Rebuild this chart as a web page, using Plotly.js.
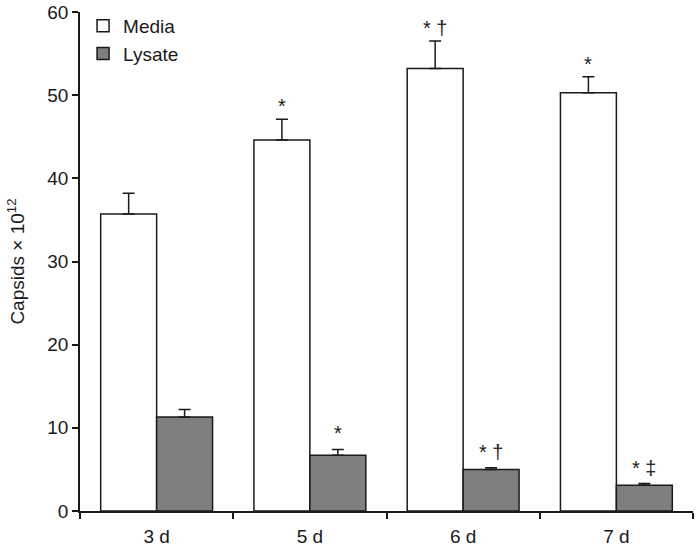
<!DOCTYPE html>
<html>
<head>
<meta charset="utf-8">
<script src="https://cdn.plot.ly/plotly-3.0.1.min.js"></script>
<style>
  body { margin: 0; background: #fff; }
  #chart { width: 700px; height: 550px; }
</style>
</head>
<body>
<div id="chart"></div>
<script>
const categories = ['3 d', '5 d', '6 d', '7 d'];
const mediaValues = [35.7, 44.6, 53.2, 50.3];
const mediaErr = [2.5, 2.5, 3.3, 1.9];
const lysateValues = [11.3, 6.7, 5.0, 3.1];
const lysateErr = [0.9, 0.7, 0.2, 0.2];
const mediaMarks = ['', '*', '* \u2020', '*'];
const lysateMarks = ['', '*', '* \u2020', '* \u2021'];

const barGap = 0.27;
const half = (1 - barGap) / 4;
const zeros = categories.map(() => 0);

const traces = [
    {
        type: 'bar',
        name: 'Media',
        x: categories,
        y: mediaValues,
        marker: {color: '#ffffff', line: {color: '#1a1a1a', width: 1.5}},
        error_y: {type: 'data', symmetric: false, array: mediaErr, arrayminus: zeros,
            color: '#1a1a1a', thickness: 1.5, width: 6}
    },
    {
        type: 'bar',
        name: 'Lysate',
        x: categories,
        y: lysateValues,
        marker: {color: '#7f7f7f', line: {color: '#1a1a1a', width: 1.5}},
        error_y: {type: 'data', symmetric: false, array: lysateErr, arrayminus: zeros,
            color: '#1a1a1a', thickness: 1.5, width: 6}
    }
];

const annotations = [];
categories.forEach((c, i) => {
    if (mediaMarks[i]) {
        annotations.push({x: i - half, y: mediaValues[i] + mediaErr[i], text: mediaMarks[i],
            showarrow: false, yanchor: 'bottom', yshift: 0, font: {size: 20, color: '#1a1a1a'}});
    }
    if (lysateMarks[i]) {
        annotations.push({x: i + half, y: lysateValues[i] + lysateErr[i], text: lysateMarks[i],
            showarrow: false, yanchor: 'bottom', yshift: 3, font: {size: 20, color: '#1a1a1a'}});
    }
});

const layout = {
    width: 700,
    height: 550,
    margin: {l: 80, r: 7, t: 12, b: 39},
    paper_bgcolor: '#ffffff',
    plot_bgcolor: '#ffffff',
    font: {family: 'Liberation Sans, Arial, sans-serif', size: 19, color: '#1a1a1a'},
    barmode: 'group',
    bargap: barGap,
    bargroupgap: 0,
    showlegend: true,
    legend: {x: 0.005, y: 1.01, xanchor: 'left', yanchor: 'top', bgcolor: 'rgba(0,0,0,0)',
        font: {size: 19}, tracegroupgap: 0},
    xaxis: {
        type: 'category',
        showgrid: false,
        zeroline: false,
        showline: true,
        linecolor: '#1a1a1a',
        linewidth: 1.5,
        ticks: 'outside',
        tickson: 'boundaries',
        ticklen: 6,
        tickwidth: 1.5,
        tickcolor: '#1a1a1a',
        ticklabelstandoff: 7,
        tickfont: {size: 19}
    },
    yaxis: {
        range: [0, 60],
        dtick: 10,
        showgrid: false,
        zeroline: false,
        showline: true,
        linecolor: '#1a1a1a',
        linewidth: 1.5,
        ticks: 'outside',
        ticklen: 6,
        tickwidth: 1.5,
        tickcolor: '#1a1a1a',
        tickfont: {size: 19},
        title: {text: 'Capsids \u00d7 10<sup>12</sup>', font: {size: 19}, standoff: 18}
    },
    annotations: annotations
};

Plotly.newPlot('chart', traces, layout, {displayModeBar: false});
</script>
</body>
</html>
